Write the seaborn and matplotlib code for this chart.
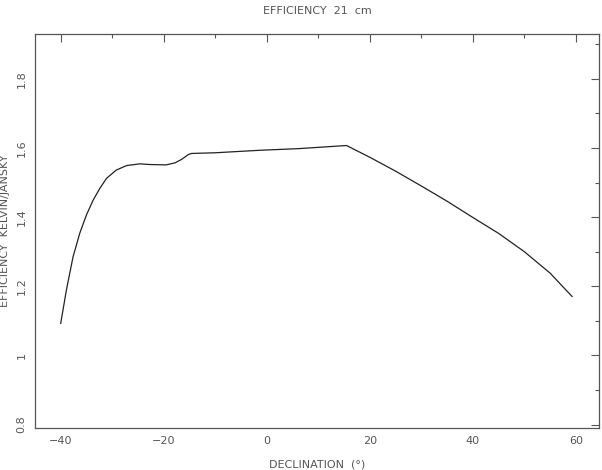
import numpy as np
import pandas as pd
import matplotlib
matplotlib.use("Agg")
import matplotlib.pyplot as plt
from matplotlib.ticker import MultipleLocator
import seaborn as sns

# Valores
declination = [-40.0, -38.9, -37.6, -36.3, -35.0, -33.7, -32.4, -31.1, -29.2,
               -27.2, -24.6, -22.7, -19.5, -17.8, -16.5, -15.2, -14.6, -10.0,
               -1.6, 6.2, 15.5, 20.0, 25.0, 30.0, 35.0, 40.0, 45.0, 50.0,
               55.0, 59.3]
efficiency = [1.092, 1.188, 1.285, 1.353, 1.406, 1.449, 1.483, 1.512, 1.536,
              1.549, 1.554, 1.552, 1.551, 1.557, 1.567, 1.581, 1.584, 1.586,
              1.593, 1.598, 1.607, 1.573, 1.533, 1.490, 1.446, 1.399, 1.353,
              1.300, 1.238, 1.170]

df = pd.DataFrame({"dec": declination, "eff": efficiency})

sns.set_style("white")
plt.rcParams["font.family"] = ["DejaVu Sans"]

fig = plt.figure(figsize=(6.02, 4.70), dpi=100)
ax = fig.add_axes([0.058, 0.0894, 0.937, 0.8386])

sns.lineplot(data=df, x="dec", y="eff", color="#222222", linewidth=0.9, ax=ax)

ax.set_xlim(-45, 64.5)
ax.set_ylim(0.79, 1.93)
ax.xaxis.set_major_locator(MultipleLocator(20))
ax.xaxis.set_minor_locator(MultipleLocator(10))
ax.yaxis.set_minor_locator(MultipleLocator(0.1))
ax.set_yticks([0.8, 1.0, 1.2, 1.4, 1.6, 1.8])
ax.set_yticklabels(["0.8", "1", "1.2", "1.4", "1.6", "1.8"], rotation=90, va="center")
ax.set_xticks([-40, -20, 0, 20, 40, 60])
ax.set_xticklabels(["\u221240", "\u221220", "0", "20", "40", "60"])

grey = "#555555"
ax.tick_params(which="both", direction="in", top=True, right=True,
               colors=grey, labelcolor=grey, labelsize=8, pad=6)
ax.tick_params(which="major", length=6, width=0.8)
ax.tick_params(which="minor", length=3, width=0.8)
for s in ax.spines.values():
    s.set_color(grey)
    s.set_linewidth(0.9)

ax.set_xlabel("DECLINATION  (°)", color=grey, fontsize=8)
ax.set_ylabel("EFFICIENCY  KELVIN/JANSKY", color=grey, fontsize=8)
ax.xaxis.set_label_coords(0.5, -0.081)
ax.yaxis.set_label_coords(-0.044, 0.5)
ax.set_title("EFFICIENCY  21  cm", color=grey, fontsize=8, pad=14)

fig.savefig("out.png", dpi=100)
